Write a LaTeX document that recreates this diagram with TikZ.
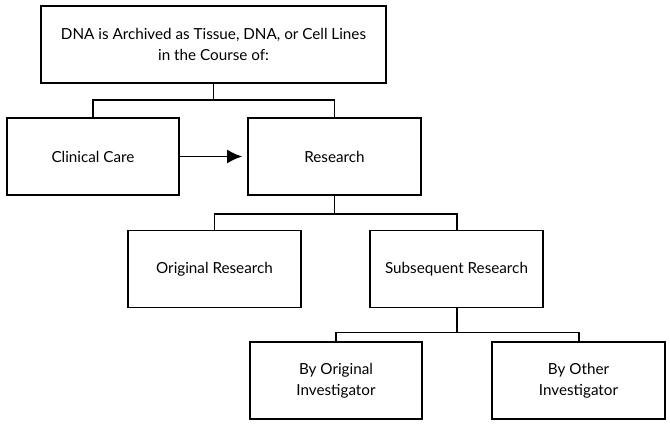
\documentclass[tikz,border=0pt]{standalone}
\usepackage{fontspec}
\setmainfont{Lato}
\usetikzlibrary{arrows.meta}
\begin{document}
\begin{tikzpicture}[x=0.03cm, y=-0.03cm, line width=1.7pt,
  box/.style={draw, rectangle, minimum width=5.16cm, minimum height=2.31cm, inner sep=0pt, align=center, font=\fontsize{13}{18}\selectfont}]
\useasboundingbox (0,0) rectangle (670,426);
\node[box, minimum width=10.35cm] (P_0_0) at (213.5,44.5) {DNA is Archived as Tissue, DNA, or Cell Lines\\in the Course of:};
\node[box] (P_1_0) at (93,156.5) {Clinical Care};
\node[box, minimum width=5.19cm] (P_1_1) at (334.5,156.5) {Research};
\draw (P_0_0.south) -- ++(0,16) -| (P_1_0.north);
\draw (P_0_0.south) -- ++(0,16) -| (P_1_1.north);
\draw[-{Latex[length=13pt,width=12pt]}, shorten >=4pt] (P_1_0.east) -- (P_1_1.west);
\node[box, minimum width=5.19cm] (P_2_0) at (214.5,269) {Original Research};
\node[box, minimum width=5.19cm] (P_2_1) at (456.5,269) {Subsequent Research};
\draw (P_1_1.south) -- ++(0,18) -| (P_2_0.north);
\draw (P_1_1.south) -- ++(0,18) -| (P_2_1.north);
\node[box] (P_3_0) at (336,380.5) {By Original\\Investigator};
\node[box, minimum width=5.19cm] (P_3_1) at (578.5,380.5) {By Other\\Investigator};
\draw (P_2_1.south) -- ++(0,24) -| (P_3_0.north);
\draw (P_2_1.south) -- ++(0,24) -| (P_3_1.north);
\end{tikzpicture}
\end{document}
